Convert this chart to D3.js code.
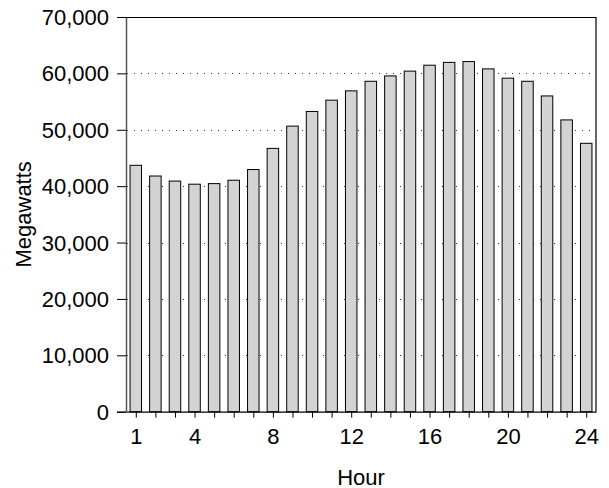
<!DOCTYPE html>
<html>
<head>
<meta charset="utf-8">
<script src="https://cdn.jsdelivr.net/npm/d3@7"></script>
<style>
  html, body { margin: 0; padding: 0; background: #fff; }
  svg { display: block; font-family: "Liberation Sans", Arial, Helvetica, sans-serif; }
</style>
</head>
<body>
<svg id="chart" width="609" height="488"></svg>
<script>
// Data
const hours = d3.range(1, 25);
const megawatts = [43700, 41800, 40900, 40350, 40450, 41050, 42950, 46700, 50650, 53250,
                   55250, 56900, 58600, 59550, 60400, 61450, 61950, 62100, 60800, 59150,
                   58600, 56000, 51750, 47600];
const xTickLabels = [1, 4, 8, 12, 16, 20, 24];
const yTicks = [0, 10000, 20000, 30000, 40000, 50000, 60000, 70000];
const yGrid = [10000, 20000, 30000, 40000, 50000, 60000];
const xTitle = "Hour";
const yTitle = "Megawatts";

const W = 609, H = 488;
const margin = { top: 17, right: 13, bottom: 76.3, left: 126 };
const iw = W - margin.left - margin.right;
const ih = H - margin.top - margin.bottom;

const svg = d3.select("#chart");
const g = svg.append("g").attr("transform", `translate(${margin.left},${margin.top})`);

const x = d3.scaleLinear().domain([0.5, 24.5]).range([0, iw]);
const y = d3.scaleLinear().domain([0, 70000]).range([ih, 0]);
const barW = 11.5;

// gridlines
g.append("g").selectAll("line").data(yGrid).join("line")
  .attr("x1", 0).attr("x2", iw)
  .attr("y1", d => Math.round(y(d)) + 0.5).attr("y2", d => Math.round(y(d)) + 0.5)
  .attr("stroke", "#333").attr("stroke-width", 1)
  .attr("stroke-dasharray", "1,6").attr("stroke-dashoffset", -8);

// bars
g.append("g").selectAll("rect").data(hours).join("rect")
  .attr("x", (d) => x(d) - barW / 2)
  .attr("y", (d, i) => y(megawatts[i]))
  .attr("width", barW)
  .attr("height", (d, i) => ih - y(megawatts[i]))
  .attr("fill", "#d3d3d3")
  .attr("stroke", "#000")
  .attr("stroke-width", 1);

// frame top and right
g.append("line").attr("x1", 0).attr("x2", iw).attr("y1", 0.5).attr("y2", 0.5)
  .attr("stroke", "#000").attr("stroke-width", 1.2);
g.append("line").attr("x1", iw).attr("x2", iw).attr("y1", 0).attr("y2", ih)
  .attr("stroke", "#000").attr("stroke-width", 1.2);

// x axis
const xAxis = d3.axisBottom(x)
  .tickValues(hours)
  .tickSize(6)
  .tickSizeOuter(0)
  .tickFormat(d => xTickLabels.includes(d) ? String(d) : "");
const gx = g.append("g").attr("transform", `translate(0,${ih})`).call(xAxis);
gx.select(".domain").attr("stroke", "#000").attr("stroke-width", 1.2);
gx.selectAll(".tick line").attr("stroke", "#000");
gx.selectAll(".tick text").attr("y", 32).attr("dy", 0)
  .attr("font-size", 22).attr("fill", "#000").attr("font-family", null);
// extend x axis line left to the y tick
gx.append("line").attr("x1", -9).attr("x2", 0).attr("y1", 0.5).attr("y2", 0.5)
  .attr("stroke", "#000").attr("stroke-width", 1.2);

// y axis
const yAxis = d3.axisLeft(y)
  .tickValues(yTicks)
  .tickSize(9)
  .tickSizeOuter(0)
  .tickPadding(8)
  .tickFormat(d3.format(","));
const gy = g.append("g").call(yAxis);
gy.select(".domain").attr("stroke", "#555").attr("stroke-width", 1.5);
gy.selectAll(".tick line").attr("stroke", "#000");
gy.selectAll(".tick text").attr("font-size", 22).attr("fill", "#000")
  .attr("dy", "0.34em").attr("font-family", null);

// titles
svg.append("text")
  .attr("x", margin.left + iw / 2).attr("y", 485)
  .attr("text-anchor", "middle").attr("font-size", 22).attr("fill", "#000")
  .text(xTitle);
svg.append("text")
  .attr("transform", `translate(31,${margin.top + ih / 2}) rotate(-90)`)
  .attr("text-anchor", "middle").attr("font-size", 22).attr("fill", "#000")
  .text(yTitle);
</script>
</body>
</html>
